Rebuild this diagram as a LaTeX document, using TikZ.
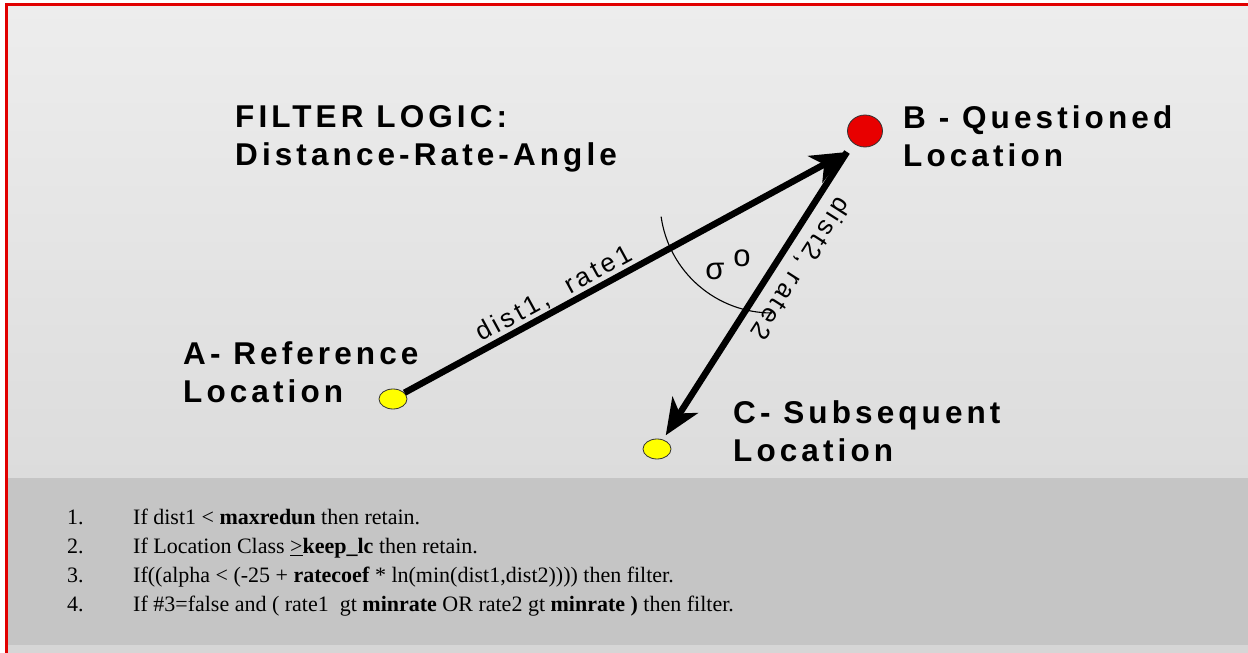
\documentclass[tikz,border=0pt]{standalone}
\usepackage{fontspec}
\setmainfont{Liberation Serif}
\setsansfont{Liberation Sans}
\newfontfamily\headfont[LetterSpace=13]{Liberation Sans}
\usetikzlibrary{arrows.meta,positioning,shapes.geometric,calc}
\definecolor{framered}{RGB}{225,0,0}
\definecolor{skytop}{RGB}{237,237,237}
\definecolor{skybot}{RGB}{220,220,220}
\definecolor{panelgray}{RGB}{197,197,197}
\definecolor{pointyellow}{RGB}{255,255,0}
\definecolor{pointred}{RGB}{232,0,0}

\begin{document}
\begin{tikzpicture}[x=1pt,y=1pt,
    heading/.style={font=\headfont\bfseries\fontsize{31.5}{38.5}\selectfont, inner sep=0pt, align=left, anchor=base west},
    pathlabel/.style={font=\headfont\fontsize{26}{30}\selectfont},
    fix/.style={draw=black!80, line width=0.8pt, ellipse, inner sep=0pt},
    move/.style={line width=6.5pt, -{Stealth[length=36pt,width=30pt,inset=10pt]}},
    rule/.style={font=\fontsize{22}{26}\selectfont, inner sep=0pt, anchor=base west}]
    % page, panels and frame
    \useasboundingbox (0,0) rectangle (1248,653);
    \fill[white] (0,0) rectangle (1248,653);
    \shade[top color=skytop, bottom color=skybot] (6,175) rectangle (1248,648);
    \fill[panelgray] (6,8) rectangle (1248,175);
    \fill[panelgray!70!white] (6,0) rectangle (1248,8);
    \draw[framered, line width=3pt] (6,0) -- (6,648.5) -- (1248,648.5);

    % the three fixes
    \node[fix, fill=pointyellow, minimum width=28pt, minimum height=20pt] (A) at (393,254) {};
    \node[fix, fill=pointyellow, minimum width=28pt, minimum height=20pt] (C) at (657,204) {};
    \node[fix, fill=pointred, minimum width=35pt, minimum height=32pt] (B) at (865,522) {};
    \coordinate (hit) at (847,501);
    \coordinate (pivot) at (772,452);

    % legs and angle
    \draw[move, shorten >=5pt] (hit) -- (C)
      node[pathlabel, inner sep=9pt, pos=0.36, sloped, allow upside down, above] (leg2) {dist2, rate2};
    \draw[move] (A) -- (hit)
      node[pathlabel, inner sep=1pt, pos=0.355, sloped, above] (leg1) {dist1,\ \ rate1};
    \draw[line width=1.1pt] ($(pivot)+(188:112)$) arc[start angle=188, end angle=270, radius=112];
    \node[font=\sffamily\fontsize{31}{32}\selectfont, inner sep=0pt] (angle) at (728,388) {σ\hspace{9pt}\raisebox{13pt}{o}};

    % headings
    \node[heading] (title) at (235,487) {FILTER LOGIC:\\Distance-Rate-Angle};
    \node[heading] (labB) at (903,486) {B - Questioned\\Location};
    \node[heading] (labA) at (183,250) {A- Reference\\Location};
    \node[heading] (labC) at (733,191) {C- Subsequent\\Location};

    % filter rules
    \foreach \n/\txt in {1/{If dist1 < \textbf{maxredun} then retain.},
        2/{If Location Class \underline{>}\textbf{keep\_lc} then retain.},
        3/{If((alpha < (-25 + \textbf{ratecoef} * ln(min(dist1,dist2)))) then filter.},
        4/{If \#3=false and ( rate1\ \ gt \textbf{minrate} OR rate2 gt \textbf{minrate )} then filter.}} {
      \node[rule] (num\n) at (67,{157-29*\n}) {\n.};
      \node[rule] (item\n) at (133,{157-29*\n}) {\txt};
    }
\end{tikzpicture}
\end{document}
